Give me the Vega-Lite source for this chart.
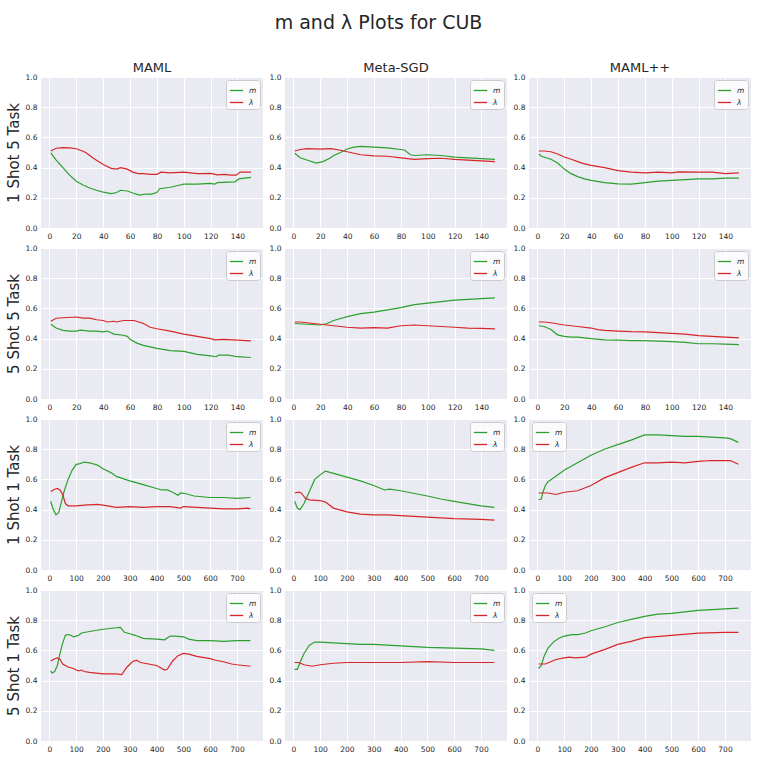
{
  "$schema": "https://vega.github.io/schema/vega-lite/v6.json",
  "padding": {"left": 6, "top": 14, "right": 5, "bottom": 5},
  "title": {"text": "m and λ Plots for CUB", "fontSize": 19, "offset": 29, "anchor": "middle"},
  "config": {
    "font": "DejaVu Sans",
    "background": "white",
    "view": {"fill": "#eaeaf2", "stroke": null},
    "axis": {
      "domain": false,
      "ticks": false,
      "gridColor": "white",
      "gridWidth": 1,
      "labelFontSize": 7.5,
      "labelColor": "#262626",
      "labelPadding": 4,
      "titleFontSize": 15,
      "titleFontWeight": "normal",
      "titleColor": "#262626",
      "titlePadding": 4
    },
    "legend": {
      "offset": 3,
      "padding": 3,
      "fillColor": "rgba(255,255,255,0.8)",
      "strokeColor": "#cccccc",
      "cornerRadius": 3,
      "symbolType": "stroke",
      "symbolSize": 180,
      "symbolStrokeWidth": 1.3,
      "labelFontSize": 7.5,
      "labelFontStyle": "italic",
      "labelColor": "#262626",
      "rowPadding": 1,
      "labelOffset": 5
    },
    "title": {"fontWeight": "normal", "color": "#262626", "fontSize": 13, "offset": -2},
    "concat": {"spacing": 6}
  },
  "datasets": {
    "p11": [
      {"s":"m","x":1,"y":0.498},{"s":"m","x":5,"y":0.45},{"s":"m","x":10,"y":0.40},{"s":"m","x":15,"y":0.35},{"s":"m","x":20,"y":0.31},{"s":"m","x":25,"y":0.285},{"s":"m","x":30,"y":0.265},{"s":"m","x":35,"y":0.25},{"s":"m","x":40,"y":0.238},{"s":"m","x":46,"y":0.228},{"s":"m","x":50,"y":0.235},{"s":"m","x":53,"y":0.25},{"s":"m","x":58,"y":0.245},{"s":"m","x":62,"y":0.232},{"s":"m","x":67,"y":0.218},{"s":"m","x":72,"y":0.225},{"s":"m","x":76,"y":0.225},{"s":"m","x":80,"y":0.235},{"s":"m","x":82,"y":0.26},{"s":"m","x":90,"y":0.27},{"s":"m","x":95,"y":0.28},{"s":"m","x":100,"y":0.29},{"s":"m","x":110,"y":0.29},{"s":"m","x":120,"y":0.295},{"s":"m","x":123,"y":0.29},{"s":"m","x":125,"y":0.30},{"s":"m","x":138,"y":0.305},{"s":"m","x":141,"y":0.325},{"s":"m","x":150,"y":0.335},
      {"s":"λ","x":1,"y":0.51},{"s":"λ","x":5,"y":0.528},{"s":"λ","x":10,"y":0.532},{"s":"λ","x":15,"y":0.53},{"s":"λ","x":20,"y":0.525},{"s":"λ","x":24,"y":0.512},{"s":"λ","x":27,"y":0.50},{"s":"λ","x":33,"y":0.46},{"s":"λ","x":40,"y":0.42},{"s":"λ","x":46,"y":0.395},{"s":"λ","x":50,"y":0.39},{"s":"λ","x":53,"y":0.40},{"s":"λ","x":58,"y":0.39},{"s":"λ","x":62,"y":0.37},{"s":"λ","x":66,"y":0.36},{"s":"λ","x":70,"y":0.36},{"s":"λ","x":75,"y":0.355},{"s":"λ","x":80,"y":0.355},{"s":"λ","x":83,"y":0.37},{"s":"λ","x":90,"y":0.365},{"s":"λ","x":100,"y":0.37},{"s":"λ","x":110,"y":0.36},{"s":"λ","x":115,"y":0.36},{"s":"λ","x":120,"y":0.362},{"s":"λ","x":125,"y":0.352},{"s":"λ","x":130,"y":0.355},{"s":"λ","x":135,"y":0.35},{"s":"λ","x":139,"y":0.35},{"s":"λ","x":142,"y":0.37},{"s":"λ","x":150,"y":0.37}
    ],
    "p12": [
      {"s":"m","x":1,"y":0.495},{"s":"m","x":5,"y":0.465},{"s":"m","x":10,"y":0.45},{"s":"m","x":17,"y":0.43},{"s":"m","x":22,"y":0.44},{"s":"m","x":27,"y":0.462},{"s":"m","x":30,"y":0.48},{"s":"m","x":35,"y":0.50},{"s":"m","x":40,"y":0.523},{"s":"m","x":45,"y":0.535},{"s":"m","x":50,"y":0.54},{"s":"m","x":60,"y":0.535},{"s":"m","x":70,"y":0.53},{"s":"m","x":80,"y":0.52},{"s":"m","x":83,"y":0.515},{"s":"m","x":87,"y":0.485},{"s":"m","x":90,"y":0.48},{"s":"m","x":100,"y":0.485},{"s":"m","x":110,"y":0.48},{"s":"m","x":120,"y":0.47},{"s":"m","x":130,"y":0.465},{"s":"m","x":140,"y":0.46},{"s":"m","x":150,"y":0.455},
      {"s":"λ","x":1,"y":0.51},{"s":"λ","x":5,"y":0.52},{"s":"λ","x":10,"y":0.525},{"s":"λ","x":20,"y":0.522},{"s":"λ","x":28,"y":0.525},{"s":"λ","x":35,"y":0.515},{"s":"λ","x":40,"y":0.505},{"s":"λ","x":50,"y":0.485},{"s":"λ","x":60,"y":0.478},{"s":"λ","x":70,"y":0.475},{"s":"λ","x":80,"y":0.465},{"s":"λ","x":90,"y":0.455},{"s":"λ","x":100,"y":0.46},{"s":"λ","x":110,"y":0.462},{"s":"λ","x":120,"y":0.455},{"s":"λ","x":130,"y":0.45},{"s":"λ","x":140,"y":0.445},{"s":"λ","x":150,"y":0.44}
    ],
    "p13": [
      {"s":"m","x":1,"y":0.49},{"s":"m","x":3,"y":0.475},{"s":"m","x":10,"y":0.455},{"s":"m","x":15,"y":0.43},{"s":"m","x":20,"y":0.39},{"s":"m","x":25,"y":0.36},{"s":"m","x":30,"y":0.34},{"s":"m","x":35,"y":0.325},{"s":"m","x":40,"y":0.315},{"s":"m","x":50,"y":0.30},{"s":"m","x":60,"y":0.292},{"s":"m","x":70,"y":0.29},{"s":"m","x":80,"y":0.30},{"s":"m","x":90,"y":0.31},{"s":"m","x":100,"y":0.315},{"s":"m","x":110,"y":0.32},{"s":"m","x":120,"y":0.325},{"s":"m","x":130,"y":0.325},{"s":"m","x":140,"y":0.33},{"s":"m","x":150,"y":0.33},
      {"s":"λ","x":1,"y":0.51},{"s":"λ","x":5,"y":0.51},{"s":"λ","x":10,"y":0.505},{"s":"λ","x":15,"y":0.49},{"s":"λ","x":20,"y":0.47},{"s":"λ","x":25,"y":0.455},{"s":"λ","x":30,"y":0.44},{"s":"λ","x":35,"y":0.425},{"s":"λ","x":40,"y":0.415},{"s":"λ","x":50,"y":0.40},{"s":"λ","x":60,"y":0.38},{"s":"λ","x":70,"y":0.37},{"s":"λ","x":80,"y":0.365},{"s":"λ","x":90,"y":0.37},{"s":"λ","x":100,"y":0.365},{"s":"λ","x":105,"y":0.372},{"s":"λ","x":120,"y":0.37},{"s":"λ","x":130,"y":0.37},{"s":"λ","x":140,"y":0.36},{"s":"λ","x":150,"y":0.365}
    ],
    "p21": [
      {"s":"m","x":1,"y":0.495},{"s":"m","x":5,"y":0.47},{"s":"m","x":10,"y":0.455},{"s":"m","x":15,"y":0.45},{"s":"m","x":20,"y":0.45},{"s":"m","x":23,"y":0.456},{"s":"m","x":30,"y":0.45},{"s":"m","x":35,"y":0.45},{"s":"m","x":40,"y":0.445},{"s":"m","x":43,"y":0.45},{"s":"m","x":48,"y":0.43},{"s":"m","x":55,"y":0.422},{"s":"m","x":58,"y":0.415},{"s":"m","x":60,"y":0.395},{"s":"m","x":65,"y":0.37},{"s":"m","x":70,"y":0.355},{"s":"m","x":80,"y":0.335},{"s":"m","x":90,"y":0.32},{"s":"m","x":100,"y":0.315},{"s":"m","x":110,"y":0.295},{"s":"m","x":120,"y":0.285},{"s":"m","x":124,"y":0.28},{"s":"m","x":126,"y":0.29},{"s":"m","x":133,"y":0.29},{"s":"m","x":140,"y":0.28},{"s":"m","x":150,"y":0.275},
      {"s":"λ","x":1,"y":0.515},{"s":"λ","x":5,"y":0.535},{"s":"λ","x":10,"y":0.538},{"s":"λ","x":20,"y":0.543},{"s":"λ","x":25,"y":0.535},{"s":"λ","x":30,"y":0.535},{"s":"λ","x":35,"y":0.525},{"s":"λ","x":40,"y":0.52},{"s":"λ","x":43,"y":0.51},{"s":"λ","x":48,"y":0.515},{"s":"λ","x":50,"y":0.51},{"s":"λ","x":55,"y":0.52},{"s":"λ","x":60,"y":0.52},{"s":"λ","x":63,"y":0.52},{"s":"λ","x":70,"y":0.50},{"s":"λ","x":75,"y":0.475},{"s":"λ","x":80,"y":0.465},{"s":"λ","x":90,"y":0.45},{"s":"λ","x":100,"y":0.43},{"s":"λ","x":110,"y":0.415},{"s":"λ","x":120,"y":0.40},{"s":"λ","x":123,"y":0.392},{"s":"λ","x":130,"y":0.395},{"s":"λ","x":140,"y":0.39},{"s":"λ","x":150,"y":0.385}
    ],
    "p22": [
      {"s":"m","x":1,"y":0.50},{"s":"m","x":10,"y":0.495},{"s":"m","x":20,"y":0.49},{"s":"m","x":25,"y":0.50},{"s":"m","x":30,"y":0.52},{"s":"m","x":40,"y":0.545},{"s":"m","x":50,"y":0.565},{"s":"m","x":60,"y":0.575},{"s":"m","x":70,"y":0.59},{"s":"m","x":80,"y":0.605},{"s":"m","x":90,"y":0.625},{"s":"m","x":100,"y":0.635},{"s":"m","x":110,"y":0.645},{"s":"m","x":120,"y":0.655},{"s":"m","x":130,"y":0.66},{"s":"m","x":140,"y":0.665},{"s":"m","x":150,"y":0.67},
      {"s":"λ","x":1,"y":0.51},{"s":"λ","x":5,"y":0.51},{"s":"λ","x":10,"y":0.505},{"s":"λ","x":20,"y":0.495},{"s":"λ","x":30,"y":0.485},{"s":"λ","x":40,"y":0.475},{"s":"λ","x":50,"y":0.47},{"s":"λ","x":60,"y":0.473},{"s":"λ","x":70,"y":0.47},{"s":"λ","x":80,"y":0.485},{"s":"λ","x":90,"y":0.49},{"s":"λ","x":100,"y":0.485},{"s":"λ","x":110,"y":0.48},{"s":"λ","x":120,"y":0.475},{"s":"λ","x":130,"y":0.47},{"s":"λ","x":140,"y":0.468},{"s":"λ","x":150,"y":0.465}
    ],
    "p23": [
      {"s":"m","x":1,"y":0.485},{"s":"m","x":5,"y":0.48},{"s":"m","x":10,"y":0.46},{"s":"m","x":15,"y":0.425},{"s":"m","x":20,"y":0.415},{"s":"m","x":25,"y":0.41},{"s":"m","x":30,"y":0.41},{"s":"m","x":40,"y":0.40},{"s":"m","x":50,"y":0.392},{"s":"m","x":60,"y":0.39},{"s":"m","x":70,"y":0.386},{"s":"m","x":80,"y":0.387},{"s":"m","x":90,"y":0.383},{"s":"m","x":100,"y":0.38},{"s":"m","x":110,"y":0.375},{"s":"m","x":120,"y":0.366},{"s":"m","x":130,"y":0.366},{"s":"m","x":140,"y":0.364},{"s":"m","x":150,"y":0.36},
      {"s":"λ","x":1,"y":0.51},{"s":"λ","x":5,"y":0.51},{"s":"λ","x":10,"y":0.505},{"s":"λ","x":20,"y":0.49},{"s":"λ","x":30,"y":0.48},{"s":"λ","x":40,"y":0.47},{"s":"λ","x":45,"y":0.46},{"s":"λ","x":50,"y":0.455},{"s":"λ","x":60,"y":0.45},{"s":"λ","x":70,"y":0.446},{"s":"λ","x":80,"y":0.445},{"s":"λ","x":90,"y":0.44},{"s":"λ","x":100,"y":0.435},{"s":"λ","x":110,"y":0.43},{"s":"λ","x":120,"y":0.42},{"s":"λ","x":130,"y":0.415},{"s":"λ","x":140,"y":0.41},{"s":"λ","x":150,"y":0.405}
    ],
    "p31": [
      {"s":"m","x":5,"y":0.455},{"s":"m","x":15,"y":0.40},{"s":"m","x":25,"y":0.365},{"s":"m","x":35,"y":0.38},{"s":"m","x":45,"y":0.45},{"s":"m","x":55,"y":0.52},{"s":"m","x":70,"y":0.60},{"s":"m","x":85,"y":0.66},{"s":"m","x":100,"y":0.70},{"s":"m","x":115,"y":0.705},{"s":"m","x":130,"y":0.715},{"s":"m","x":150,"y":0.71},{"s":"m","x":180,"y":0.695},{"s":"m","x":200,"y":0.67},{"s":"m","x":230,"y":0.645},{"s":"m","x":250,"y":0.62},{"s":"m","x":300,"y":0.59},{"s":"m","x":350,"y":0.565},{"s":"m","x":400,"y":0.54},{"s":"m","x":420,"y":0.53},{"s":"m","x":440,"y":0.53},{"s":"m","x":460,"y":0.515},{"s":"m","x":480,"y":0.495},{"s":"m","x":490,"y":0.51},{"s":"m","x":510,"y":0.505},{"s":"m","x":540,"y":0.49},{"s":"m","x":600,"y":0.48},{"s":"m","x":650,"y":0.48},{"s":"m","x":700,"y":0.475},{"s":"m","x":750,"y":0.48},
      {"s":"λ","x":5,"y":0.52},{"s":"λ","x":20,"y":0.535},{"s":"λ","x":30,"y":0.54},{"s":"λ","x":40,"y":0.53},{"s":"λ","x":50,"y":0.50},{"s":"λ","x":60,"y":0.44},{"s":"λ","x":70,"y":0.425},{"s":"λ","x":100,"y":0.425},{"s":"λ","x":130,"y":0.43},{"s":"λ","x":180,"y":0.435},{"s":"λ","x":200,"y":0.43},{"s":"λ","x":250,"y":0.415},{"s":"λ","x":300,"y":0.42},{"s":"λ","x":350,"y":0.415},{"s":"λ","x":400,"y":0.42},{"s":"λ","x":450,"y":0.42},{"s":"λ","x":490,"y":0.41},{"s":"λ","x":500,"y":0.42},{"s":"λ","x":550,"y":0.415},{"s":"λ","x":600,"y":0.41},{"s":"λ","x":650,"y":0.405},{"s":"λ","x":700,"y":0.405},{"s":"λ","x":740,"y":0.41},{"s":"λ","x":750,"y":0.405}
    ],
    "p32": [
      {"s":"m","x":5,"y":0.455},{"s":"m","x":15,"y":0.41},{"s":"m","x":25,"y":0.40},{"s":"m","x":40,"y":0.44},{"s":"m","x":60,"y":0.52},{"s":"m","x":80,"y":0.60},{"s":"m","x":100,"y":0.63},{"s":"m","x":120,"y":0.655},{"s":"m","x":150,"y":0.64},{"s":"m","x":200,"y":0.615},{"s":"m","x":250,"y":0.59},{"s":"m","x":300,"y":0.56},{"s":"m","x":340,"y":0.53},{"s":"m","x":360,"y":0.535},{"s":"m","x":400,"y":0.525},{"s":"m","x":500,"y":0.49},{"s":"m","x":550,"y":0.47},{"s":"m","x":600,"y":0.455},{"s":"m","x":650,"y":0.44},{"s":"m","x":700,"y":0.425},{"s":"m","x":750,"y":0.415},
      {"s":"λ","x":5,"y":0.51},{"s":"λ","x":20,"y":0.515},{"s":"λ","x":30,"y":0.51},{"s":"λ","x":45,"y":0.475},{"s":"λ","x":60,"y":0.465},{"s":"λ","x":100,"y":0.46},{"s":"λ","x":120,"y":0.45},{"s":"λ","x":150,"y":0.41},{"s":"λ","x":200,"y":0.385},{"s":"λ","x":250,"y":0.37},{"s":"λ","x":300,"y":0.365},{"s":"λ","x":350,"y":0.365},{"s":"λ","x":400,"y":0.36},{"s":"λ","x":500,"y":0.35},{"s":"λ","x":600,"y":0.34},{"s":"λ","x":700,"y":0.335},{"s":"λ","x":750,"y":0.33}
    ],
    "p33": [
      {"s":"m","x":5,"y":0.465},{"s":"m","x":15,"y":0.47},{"s":"m","x":20,"y":0.51},{"s":"m","x":30,"y":0.56},{"s":"m","x":40,"y":0.585},{"s":"m","x":60,"y":0.61},{"s":"m","x":100,"y":0.66},{"s":"m","x":150,"y":0.71},{"s":"m","x":200,"y":0.76},{"s":"m","x":250,"y":0.80},{"s":"m","x":300,"y":0.83},{"s":"m","x":350,"y":0.86},{"s":"m","x":400,"y":0.895},{"s":"m","x":450,"y":0.895},{"s":"m","x":500,"y":0.89},{"s":"m","x":550,"y":0.885},{"s":"m","x":600,"y":0.885},{"s":"m","x":650,"y":0.88},{"s":"m","x":700,"y":0.875},{"s":"m","x":720,"y":0.87},{"s":"m","x":750,"y":0.845},
      {"s":"λ","x":5,"y":0.51},{"s":"λ","x":40,"y":0.51},{"s":"λ","x":70,"y":0.50},{"s":"λ","x":100,"y":0.515},{"s":"λ","x":150,"y":0.525},{"s":"λ","x":200,"y":0.56},{"s":"λ","x":250,"y":0.61},{"s":"λ","x":300,"y":0.645},{"s":"λ","x":350,"y":0.68},{"s":"λ","x":400,"y":0.71},{"s":"λ","x":450,"y":0.71},{"s":"λ","x":500,"y":0.715},{"s":"λ","x":550,"y":0.71},{"s":"λ","x":600,"y":0.72},{"s":"λ","x":650,"y":0.725},{"s":"λ","x":700,"y":0.725},{"s":"λ","x":720,"y":0.725},{"s":"λ","x":750,"y":0.70}
    ],
    "p41": [
      {"s":"m","x":5,"y":0.465},{"s":"m","x":10,"y":0.45},{"s":"m","x":20,"y":0.46},{"s":"m","x":30,"y":0.50},{"s":"m","x":40,"y":0.58},{"s":"m","x":50,"y":0.65},{"s":"m","x":60,"y":0.70},{"s":"m","x":70,"y":0.705},{"s":"m","x":80,"y":0.70},{"s":"m","x":90,"y":0.69},{"s":"m","x":100,"y":0.695},{"s":"m","x":110,"y":0.70},{"s":"m","x":120,"y":0.715},{"s":"m","x":150,"y":0.725},{"s":"m","x":200,"y":0.74},{"s":"m","x":250,"y":0.75},{"s":"m","x":265,"y":0.752},{"s":"m","x":280,"y":0.72},{"s":"m","x":300,"y":0.71},{"s":"m","x":320,"y":0.70},{"s":"m","x":350,"y":0.68},{"s":"m","x":400,"y":0.675},{"s":"m","x":430,"y":0.67},{"s":"m","x":450,"y":0.695},{"s":"m","x":470,"y":0.695},{"s":"m","x":500,"y":0.69},{"s":"m","x":520,"y":0.675},{"s":"m","x":550,"y":0.665},{"s":"m","x":600,"y":0.665},{"s":"m","x":650,"y":0.66},{"s":"m","x":700,"y":0.665},{"s":"m","x":750,"y":0.665},
      {"s":"λ","x":5,"y":0.53},{"s":"λ","x":20,"y":0.545},{"s":"λ","x":30,"y":0.55},{"s":"λ","x":40,"y":0.54},{"s":"λ","x":50,"y":0.51},{"s":"λ","x":70,"y":0.49},{"s":"λ","x":90,"y":0.48},{"s":"λ","x":100,"y":0.47},{"s":"λ","x":110,"y":0.465},{"s":"λ","x":120,"y":0.47},{"s":"λ","x":130,"y":0.46},{"s":"λ","x":150,"y":0.455},{"s":"λ","x":200,"y":0.445},{"s":"λ","x":250,"y":0.445},{"s":"λ","x":270,"y":0.44},{"s":"λ","x":290,"y":0.49},{"s":"λ","x":310,"y":0.525},{"s":"λ","x":325,"y":0.535},{"s":"λ","x":340,"y":0.52},{"s":"λ","x":400,"y":0.50},{"s":"λ","x":430,"y":0.47},{"s":"λ","x":440,"y":0.475},{"s":"λ","x":460,"y":0.53},{"s":"λ","x":480,"y":0.565},{"s":"λ","x":500,"y":0.58},{"s":"λ","x":520,"y":0.575},{"s":"λ","x":550,"y":0.56},{"s":"λ","x":600,"y":0.545},{"s":"λ","x":620,"y":0.535},{"s":"λ","x":650,"y":0.525},{"s":"λ","x":680,"y":0.51},{"s":"λ","x":700,"y":0.505},{"s":"λ","x":750,"y":0.495}
    ],
    "p42": [
      {"s":"m","x":5,"y":0.475},{"s":"m","x":15,"y":0.475},{"s":"m","x":25,"y":0.52},{"s":"m","x":40,"y":0.58},{"s":"m","x":60,"y":0.635},{"s":"m","x":80,"y":0.655},{"s":"m","x":100,"y":0.655},{"s":"m","x":150,"y":0.65},{"s":"m","x":200,"y":0.645},{"s":"m","x":250,"y":0.64},{"s":"m","x":300,"y":0.64},{"s":"m","x":350,"y":0.635},{"s":"m","x":400,"y":0.63},{"s":"m","x":500,"y":0.62},{"s":"m","x":600,"y":0.615},{"s":"m","x":700,"y":0.61},{"s":"m","x":750,"y":0.60},
      {"s":"λ","x":5,"y":0.52},{"s":"λ","x":20,"y":0.52},{"s":"λ","x":40,"y":0.505},{"s":"λ","x":70,"y":0.495},{"s":"λ","x":100,"y":0.505},{"s":"λ","x":150,"y":0.515},{"s":"λ","x":200,"y":0.52},{"s":"λ","x":250,"y":0.52},{"s":"λ","x":300,"y":0.52},{"s":"λ","x":400,"y":0.52},{"s":"λ","x":500,"y":0.525},{"s":"λ","x":600,"y":0.52},{"s":"λ","x":700,"y":0.52},{"s":"λ","x":750,"y":0.52}
    ],
    "p43": [
      {"s":"m","x":5,"y":0.48},{"s":"m","x":15,"y":0.50},{"s":"m","x":25,"y":0.56},{"s":"m","x":40,"y":0.615},{"s":"m","x":60,"y":0.655},{"s":"m","x":80,"y":0.68},{"s":"m","x":100,"y":0.695},{"s":"m","x":130,"y":0.705},{"s":"m","x":150,"y":0.705},{"s":"m","x":180,"y":0.715},{"s":"m","x":200,"y":0.73},{"s":"m","x":220,"y":0.74},{"s":"m","x":250,"y":0.755},{"s":"m","x":300,"y":0.785},{"s":"m","x":350,"y":0.805},{"s":"m","x":400,"y":0.825},{"s":"m","x":450,"y":0.84},{"s":"m","x":500,"y":0.845},{"s":"m","x":550,"y":0.855},{"s":"m","x":600,"y":0.865},{"s":"m","x":700,"y":0.875},{"s":"m","x":750,"y":0.88},
      {"s":"λ","x":5,"y":0.51},{"s":"λ","x":30,"y":0.51},{"s":"λ","x":50,"y":0.525},{"s":"λ","x":70,"y":0.54},{"s":"λ","x":100,"y":0.55},{"s":"λ","x":120,"y":0.555},{"s":"λ","x":140,"y":0.55},{"s":"λ","x":180,"y":0.555},{"s":"λ","x":200,"y":0.575},{"s":"λ","x":250,"y":0.605},{"s":"λ","x":300,"y":0.64},{"s":"λ","x":350,"y":0.66},{"s":"λ","x":400,"y":0.685},{"s":"λ","x":500,"y":0.70},{"s":"λ","x":600,"y":0.715},{"s":"λ","x":700,"y":0.72},{"s":"λ","x":750,"y":0.72}
    ]
  },
  "resolve": {"legend": {"color": "independent"}},
  "spacing": 4,
  "vconcat": [
    {
      "resolve": {"legend": {"color": "independent"}},
      "hconcat": [
        {"data": {"name": "p11"}, "title": "MAML", "width": 222, "height": 151, "mark": {"type": "line", "strokeWidth": 1.2},
         "encoding": {
           "x": {"field": "x", "type": "quantitative", "title": null, "scale": {"domain": [-6.3, 159], "nice": false, "zero": false}, "axis": {"values": [0, 20, 40, 60, 80, 100, 120, 140]}},
           "y": {"field": "y", "type": "quantitative", "title": "1 Shot 5 Task", "scale": {"domain": [0, 1]}, "axis": {"values": [0, 0.2, 0.4, 0.6, 0.8, 1], "format": ".1f"}},
           "color": {"field": "s", "type": "nominal", "title": null, "scale": {"domain": ["m", "λ"], "range": ["#2ca02c", "#d62728"]}, "legend": {"orient": "top-right"}}}},
        {"data": {"name": "p12"}, "title": "Meta-SGD", "width": 222, "height": 151, "mark": {"type": "line", "strokeWidth": 1.2},
         "encoding": {
           "x": {"field": "x", "type": "quantitative", "title": null, "scale": {"domain": [-6.3, 159], "nice": false, "zero": false}, "axis": {"values": [0, 20, 40, 60, 80, 100, 120, 140]}},
           "y": {"field": "y", "type": "quantitative", "title": null, "scale": {"domain": [0, 1]}, "axis": {"values": [0, 0.2, 0.4, 0.6, 0.8, 1], "format": ".1f"}},
           "color": {"field": "s", "type": "nominal", "title": null, "scale": {"domain": ["m", "λ"], "range": ["#2ca02c", "#d62728"]}, "legend": {"orient": "top-right"}}}},
        {"data": {"name": "p13"}, "title": "MAML++", "width": 222, "height": 151, "mark": {"type": "line", "strokeWidth": 1.2},
         "encoding": {
           "x": {"field": "x", "type": "quantitative", "title": null, "scale": {"domain": [-6.3, 159], "nice": false, "zero": false}, "axis": {"values": [0, 20, 40, 60, 80, 100, 120, 140]}},
           "y": {"field": "y", "type": "quantitative", "title": null, "scale": {"domain": [0, 1]}, "axis": {"values": [0, 0.2, 0.4, 0.6, 0.8, 1], "format": ".1f"}},
           "color": {"field": "s", "type": "nominal", "title": null, "scale": {"domain": ["m", "λ"], "range": ["#2ca02c", "#d62728"]}, "legend": {"orient": "top-right"}}}}
      ]
    },
    {
      "resolve": {"legend": {"color": "independent"}},
      "hconcat": [
        {"data": {"name": "p21"}, "width": 222, "height": 151, "mark": {"type": "line", "strokeWidth": 1.2},
         "encoding": {
           "x": {"field": "x", "type": "quantitative", "title": null, "scale": {"domain": [-6.3, 159], "nice": false, "zero": false}, "axis": {"values": [0, 20, 40, 60, 80, 100, 120, 140]}},
           "y": {"field": "y", "type": "quantitative", "title": "5 Shot 5 Task", "scale": {"domain": [0, 1]}, "axis": {"values": [0, 0.2, 0.4, 0.6, 0.8, 1], "format": ".1f"}},
           "color": {"field": "s", "type": "nominal", "title": null, "scale": {"domain": ["m", "λ"], "range": ["#2ca02c", "#d62728"]}, "legend": {"orient": "top-right"}}}},
        {"data": {"name": "p22"}, "width": 222, "height": 151, "mark": {"type": "line", "strokeWidth": 1.2},
         "encoding": {
           "x": {"field": "x", "type": "quantitative", "title": null, "scale": {"domain": [-6.3, 159], "nice": false, "zero": false}, "axis": {"values": [0, 20, 40, 60, 80, 100, 120, 140]}},
           "y": {"field": "y", "type": "quantitative", "title": null, "scale": {"domain": [0, 1]}, "axis": {"values": [0, 0.2, 0.4, 0.6, 0.8, 1], "format": ".1f"}},
           "color": {"field": "s", "type": "nominal", "title": null, "scale": {"domain": ["m", "λ"], "range": ["#2ca02c", "#d62728"]}, "legend": {"orient": "top-right"}}}},
        {"data": {"name": "p23"}, "width": 222, "height": 151, "mark": {"type": "line", "strokeWidth": 1.2},
         "encoding": {
           "x": {"field": "x", "type": "quantitative", "title": null, "scale": {"domain": [-6.3, 159], "nice": false, "zero": false}, "axis": {"values": [0, 20, 40, 60, 80, 100, 120, 140]}},
           "y": {"field": "y", "type": "quantitative", "title": null, "scale": {"domain": [0, 1]}, "axis": {"values": [0, 0.2, 0.4, 0.6, 0.8, 1], "format": ".1f"}},
           "color": {"field": "s", "type": "nominal", "title": null, "scale": {"domain": ["m", "λ"], "range": ["#2ca02c", "#d62728"]}, "legend": {"orient": "top-right"}}}}
      ]
    },
    {
      "resolve": {"legend": {"color": "independent"}},
      "hconcat": [
        {"data": {"name": "p31"}, "width": 222, "height": 151, "mark": {"type": "line", "strokeWidth": 1.2},
         "encoding": {
           "x": {"field": "x", "type": "quantitative", "title": null, "scale": {"domain": [-31, 797], "nice": false, "zero": false}, "axis": {"values": [0, 100, 200, 300, 400, 500, 600, 700]}},
           "y": {"field": "y", "type": "quantitative", "title": "1 Shot 1 Task", "scale": {"domain": [0, 1]}, "axis": {"values": [0, 0.2, 0.4, 0.6, 0.8, 1], "format": ".1f"}},
           "color": {"field": "s", "type": "nominal", "title": null, "scale": {"domain": ["m", "λ"], "range": ["#2ca02c", "#d62728"]}, "legend": {"orient": "top-right"}}}},
        {"data": {"name": "p32"}, "width": 222, "height": 151, "mark": {"type": "line", "strokeWidth": 1.2},
         "encoding": {
           "x": {"field": "x", "type": "quantitative", "title": null, "scale": {"domain": [-31, 797], "nice": false, "zero": false}, "axis": {"values": [0, 100, 200, 300, 400, 500, 600, 700]}},
           "y": {"field": "y", "type": "quantitative", "title": null, "scale": {"domain": [0, 1]}, "axis": {"values": [0, 0.2, 0.4, 0.6, 0.8, 1], "format": ".1f"}},
           "color": {"field": "s", "type": "nominal", "title": null, "scale": {"domain": ["m", "λ"], "range": ["#2ca02c", "#d62728"]}, "legend": {"orient": "top-right"}}}},
        {"data": {"name": "p33"}, "width": 222, "height": 151, "mark": {"type": "line", "strokeWidth": 1.2},
         "encoding": {
           "x": {"field": "x", "type": "quantitative", "title": null, "scale": {"domain": [-31, 797], "nice": false, "zero": false}, "axis": {"values": [0, 100, 200, 300, 400, 500, 600, 700]}},
           "y": {"field": "y", "type": "quantitative", "title": null, "scale": {"domain": [0, 1]}, "axis": {"values": [0, 0.2, 0.4, 0.6, 0.8, 1], "format": ".1f"}},
           "color": {"field": "s", "type": "nominal", "title": null, "scale": {"domain": ["m", "λ"], "range": ["#2ca02c", "#d62728"]}, "legend": {"orient": "top-left"}}}}
      ]
    },
    {
      "resolve": {"legend": {"color": "independent"}},
      "hconcat": [
        {"data": {"name": "p41"}, "width": 222, "height": 151, "mark": {"type": "line", "strokeWidth": 1.2},
         "encoding": {
           "x": {"field": "x", "type": "quantitative", "title": null, "scale": {"domain": [-31, 797], "nice": false, "zero": false}, "axis": {"values": [0, 100, 200, 300, 400, 500, 600, 700]}},
           "y": {"field": "y", "type": "quantitative", "title": "5 Shot 1 Task", "scale": {"domain": [0, 1]}, "axis": {"values": [0, 0.2, 0.4, 0.6, 0.8, 1], "format": ".1f"}},
           "color": {"field": "s", "type": "nominal", "title": null, "scale": {"domain": ["m", "λ"], "range": ["#2ca02c", "#d62728"]}, "legend": {"orient": "top-right"}}}},
        {"data": {"name": "p42"}, "width": 222, "height": 151, "mark": {"type": "line", "strokeWidth": 1.2},
         "encoding": {
           "x": {"field": "x", "type": "quantitative", "title": null, "scale": {"domain": [-31, 797], "nice": false, "zero": false}, "axis": {"values": [0, 100, 200, 300, 400, 500, 600, 700]}},
           "y": {"field": "y", "type": "quantitative", "title": null, "scale": {"domain": [0, 1]}, "axis": {"values": [0, 0.2, 0.4, 0.6, 0.8, 1], "format": ".1f"}},
           "color": {"field": "s", "type": "nominal", "title": null, "scale": {"domain": ["m", "λ"], "range": ["#2ca02c", "#d62728"]}, "legend": {"orient": "top-right"}}}},
        {"data": {"name": "p43"}, "width": 222, "height": 151, "mark": {"type": "line", "strokeWidth": 1.2},
         "encoding": {
           "x": {"field": "x", "type": "quantitative", "title": null, "scale": {"domain": [-31, 797], "nice": false, "zero": false}, "axis": {"values": [0, 100, 200, 300, 400, 500, 600, 700]}},
           "y": {"field": "y", "type": "quantitative", "title": null, "scale": {"domain": [0, 1]}, "axis": {"values": [0, 0.2, 0.4, 0.6, 0.8, 1], "format": ".1f"}},
           "color": {"field": "s", "type": "nominal", "title": null, "scale": {"domain": ["m", "λ"], "range": ["#2ca02c", "#d62728"]}, "legend": {"orient": "top-left"}}}}
      ]
    }
  ]
}
